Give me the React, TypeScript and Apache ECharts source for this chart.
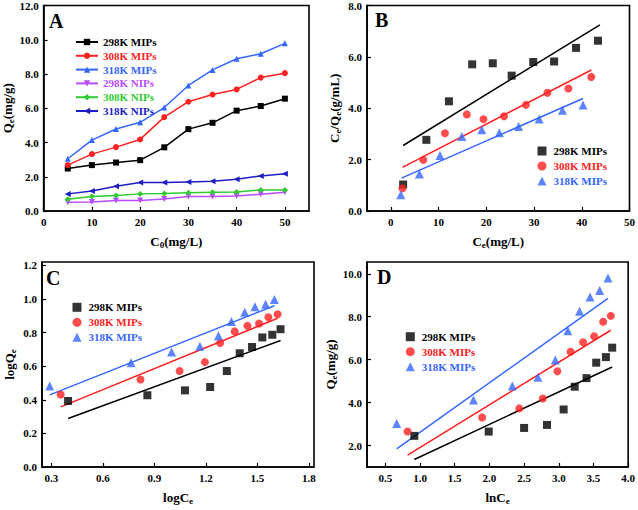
import React, { useEffect, useRef } from "react";
import * as echarts from "echarts";

const FONT = '"Liberation Serif", "Times New Roman", serif';
const BLACK = "#000000";
const RED = "#ff2020";
const BLUE = "#3366ff";
const VIOLET = "#b84dff";
const GREEN = "#2ecc2e";
const NAVY = "#1c1cc8";

// Panel A: Qe vs C0
const aC0 = [5, 10, 15, 20, 25, 30, 35, 40, 45, 50];
const aMip298 = [2.48, 2.68, 2.83, 2.97, 3.72, 4.78, 5.15, 5.86, 6.13, 6.56];
const aMip308 = [2.68, 3.32, 3.73, 4.18, 5.48, 6.38, 6.8, 7.1, 7.79, 8.05];
const aMip318 = [3.05, 4.14, 4.79, 5.18, 6.04, 7.33, 8.24, 8.89, 9.18, 9.79];
const aNip298 = [0.51, 0.53, 0.61, 0.62, 0.7, 0.84, 0.84, 0.88, 0.98, 1.09];
const aNip308 = [0.68, 0.84, 0.9, 1.0, 1.02, 1.07, 1.09, 1.11, 1.23, 1.23];
const aNip318 = [1.0, 1.17, 1.45, 1.66, 1.66, 1.7, 1.74, 1.86, 2.05, 2.17];

// Panel B: Ce/Qe vs Ce (Langmuir)
const bCe298 = [2.57, 7.44, 12.17, 17.04, 21.35, 25.31, 29.83, 34.2, 38.8, 43.4];
const bRat298 = [1.03, 2.77, 4.27, 5.71, 5.75, 5.27, 5.8, 5.82, 6.35, 6.63];
const bCe308 = [2.43, 6.8, 11.33, 15.92, 19.4, 23.71, 28.3, 32.8, 37.2, 41.99];
const bRat308 = [0.88, 1.99, 3.03, 3.76, 3.57, 3.69, 4.13, 4.6, 4.77, 5.22];
const bCe318 = [2.09, 5.98, 10.29, 14.88, 19.05, 22.74, 26.77, 31.08, 35.95, 40.26];
const bRat318 = [0.63, 1.44, 2.16, 2.9, 3.16, 3.05, 3.29, 3.58, 3.92, 4.13];
const bFit298X = [2.57, 43.8];
const bFit298Y = [2.55, 7.25];
const bFit308X = [2.43, 42.0];
const bFit308Y = [1.7, 5.49];
const bFit318X = [2.23, 40.26];
const bFit318Y = [1.28, 4.38];

// Panel C: logQe vs logCe (Freundlich)
const cX298 = [0.397, 0.859, 1.078, 1.225, 1.322, 1.397, 1.469, 1.529, 1.587, 1.635];
const cY298 = [0.393, 0.427, 0.456, 0.476, 0.571, 0.677, 0.714, 0.771, 0.787, 0.82];
const cX308 = [0.354, 0.819, 1.047, 1.194, 1.283, 1.368, 1.442, 1.51, 1.564, 1.618];
const cY308 = [0.431, 0.521, 0.571, 0.624, 0.738, 0.807, 0.84, 0.854, 0.891, 0.909];
const cX318 = [0.29, 0.764, 1.0, 1.165, 1.273, 1.349, 1.426, 1.486, 1.548, 1.599];
const cY318 = [0.482, 0.62, 0.685, 0.718, 0.781, 0.866, 0.921, 0.954, 0.968, 0.997];
const cFit298X = [0.397, 1.635];
const cFit298Y = [0.289, 0.753];
const cFit308X = [0.354, 1.618];
const cFit308Y = [0.358, 0.885];
const cFit318X = [0.29, 1.599];
const cFit318Y = [0.429, 0.96];

// Panel D: Qe vs lnCe (Temkin)
const dX298 = [0.917, 1.99, 2.5, 2.83, 3.07, 3.23, 3.4, 3.54, 3.68, 3.77];
const dY298 = [2.45, 2.65, 2.82, 2.96, 3.68, 4.74, 5.14, 5.86, 6.12, 6.56];
const dX308 = [0.82, 1.895, 2.43, 2.77, 2.98, 3.17, 3.35, 3.51, 3.64, 3.75];
const dY308 = [2.65, 3.31, 3.73, 4.19, 5.46, 6.37, 6.81, 7.09, 7.77, 8.04];
const dX318 = [0.663, 1.77, 2.33, 2.7, 2.95, 3.13, 3.3, 3.45, 3.59, 3.71];
const dY318 = [3.03, 4.12, 4.77, 5.18, 5.98, 7.35, 8.25, 8.92, 9.22, 9.81];
const dFit298X = [0.917, 3.77];
const dFit298Y = [1.35, 5.66];
const dFit308X = [0.82, 3.75];
const dFit308Y = [1.55, 7.37];
const dFit318X = [0.663, 3.71];
const dFit318Y = [1.84, 8.86];

// Tick labels
const aXTicks = [0, 10, 20, 30, 40, 50];
const aYTicks = [0, 2, 4, 6, 8, 10, 12];
const bXTicks = [0, 10, 20, 30, 40, 50];
const bYTicks = [0, 2, 4, 6, 8];
const cXTicks = [0.3, 0.6, 0.9, 1.2, 1.5, 1.8];
const cYTicks = [0, 0.2, 0.4, 0.6, 0.8, 1.0, 1.2];
const dXTicks = [0.5, 1.0, 1.5, 2.0, 2.5, 3.0, 3.5, 4.0];
const dYTicks = [2, 4, 6, 8, 10];

const legendA = ["298K MIPs", "308K MIPs", "318K MIPs", "298K NIPs", "308K NIPs", "318K NIPs"];
const legendFit = ["298K MIPs", "308K MIPs", "318K MIPs"];

const zip = (xs: number[], ys: number[]) => xs.map((x, i) => [x, ys[i]]);

const rich = {
  m: { fontFamily: FONT, fontWeight: "bold", fontSize: 13, color: BLACK, lineHeight: 16 },
  s: { fontFamily: FONT, fontWeight: "bold", fontSize: 9, color: BLACK, lineHeight: 9, verticalAlign: "bottom" },
};

function axis(
  gridIndex: number,
  min: number,
  max: number,
  ticks: number[],
  dec: number,
  name: string,
  nameGap: number
) {
  return {
    type: "value",
    gridIndex,
    min,
    max,
    name,
    nameLocation: "middle",
    nameGap,
    nameTextStyle: { rich },
    axisLine: { show: true, onZero: false, lineStyle: { color: BLACK, width: 1.6 } },
    axisTick: { show: true, inside: true, length: 4, customValues: ticks, lineStyle: { color: BLACK, width: 1.2 } },
    axisLabel: {
      customValues: ticks,
      margin: 5,
      color: BLACK,
      fontFamily: FONT,
      fontWeight: "bold",
      fontSize: 11,
      formatter: (v: number) => v.toFixed(dec),
    },
    splitLine: { show: false },
  };
}

function lineSeries(name: string, xs: number[], ys: number[], color: string, symbol: string, rotate: number) {
  return {
    type: "line",
    name,
    xAxisIndex: 0,
    yAxisIndex: 0,
    data: zip(xs, ys),
    symbol,
    symbolSize: 6,
    symbolRotate: rotate,
    lineStyle: { color, width: 1.5 },
    itemStyle: { color },
    z: 3,
  };
}

function scatter(name: string, idx: number, xs: number[], ys: number[], color: string, symbol: string, size: number) {
  return {
    type: "scatter",
    name,
    xAxisIndex: idx,
    yAxisIndex: idx,
    data: zip(xs, ys),
    symbol,
    symbolSize: size,
    itemStyle: { color },
    z: 4,
  };
}

function fit(idx: number, xs: number[], ys: number[], color: string) {
  return {
    type: "line",
    name: "fit" + idx + color,
    xAxisIndex: idx,
    yAxisIndex: idx,
    data: zip(xs, ys),
    symbol: "none",
    lineStyle: { color, width: 1.5 },
    z: 2,
  };
}

const SQ = "path://M0,0L10,0L10,10L0,10Z";
const TRI = "path://M5,0L10,10L0,10Z";
const fitColors = [BLACK, RED, BLUE];
const fitIcons = [SQ, "circle", TRI];

function fitLegend(prefix: string, left: number, top: number) {
  return {
    orient: "vertical",
    left,
    top,
    padding: 0,
    itemWidth: 13,
    itemHeight: 9,
    itemGap: 3,
    formatter: (n: string) => n.split("|")[1],
    data: legendFit.map((n, i) => ({
      name: prefix + "|" + n,
      icon: fitIcons[i],
      textStyle: { color: fitColors[i] },
    })),
    textStyle: { fontFamily: FONT, fontWeight: "bold", fontSize: 11, lineHeight: 12 },
  };
}

function panelLetter(text: string, x: number, y: number) {
  return {
    type: "text",
    left: x,
    top: y,
    style: { text, font: 'bold 20px "Liberation Serif"', fill: BLACK },
  };
}

export default function App() {
  const ref = useRef<HTMLDivElement>(null);
  useEffect(() => {
    const chart = echarts.init(ref.current!, null, { renderer: "svg" });
    const aColors = [BLACK, RED, BLUE, VIOLET, GREEN, NAVY];
    const option = {
      animation: false,
      backgroundColor: "#ffffff",
      grid: [
        { left: 42, top: 5, width: 267, height: 206, show: true, borderColor: BLACK, borderWidth: 1.6 },
        { left: 367, top: 5, width: 263, height: 206, show: true, borderColor: BLACK, borderWidth: 1.6 },
        { left: 42, top: 262, width: 272, height: 205, show: true, borderColor: BLACK, borderWidth: 1.6 },
        { left: 367, top: 262, width: 263, height: 205, show: true, borderColor: BLACK, borderWidth: 1.6 },
      ],
      xAxis: [
        axis(0, 0, 55, aXTicks, 0, "{m|C}{s|0}{m|(mg/L)}", 22),
        axis(1, -5, 50, bXTicks, 0, "{m|C}{s|e}{m|(mg/L)}", 22),
        axis(2, 0.245, 1.83, cXTicks, 1, "{m|logC}{s|e}", 22),
        axis(3, 0.235, 4.0, dXTicks, 1, "{m|lnC}{s|e}", 22),
      ],
      yAxis: [
        axis(0, 0, 12, aYTicks, 1, "{m|Q}{s|e}{m|(mg/g)}", 25),
        axis(1, 0, 8, bYTicks, 1, "{m|C}{s|e}{m|/Q}{s|e}{m|(g/mL)}", 25),
        axis(2, 0, 1.22, cYTicks, 1, "{m|logQ}{s|e}", 25),
        axis(3, 1.0, 10.55, dYTicks, 1, "{m|Q}{s|e}{m|(mg/g)}", 25),
      ],
      legend: [
        {
          orient: "vertical",
          left: 75,
          top: 36,
          padding: 0,
          itemWidth: 22,
          itemHeight: 8,
          itemGap: 1.8,
          formatter: (n: string) => n.split("|")[1],
          data: legendA.map((n, i) => ({ name: "A|" + n, textStyle: { color: aColors[i] } })),
          textStyle: { fontFamily: FONT, fontWeight: "bold", fontSize: 11, lineHeight: 12 },
        },
        fitLegend("B", 537.5, 145),
        fitLegend("C", 72.5, 301.3),
        fitLegend("D", 405.8, 330.7),
      ],
      graphic: [
        panelLetter("A", 49, 11),
        panelLetter("B", 375, 10),
        panelLetter("C", 46, 268),
        panelLetter("D", 377, 267),
      ],
      series: [
        lineSeries("A|298K MIPs", aC0, aMip298, BLACK, "rect", 0),
        lineSeries("A|308K MIPs", aC0, aMip308, RED, "circle", 0),
        lineSeries("A|318K MIPs", aC0, aMip318, BLUE, "triangle", 0),
        lineSeries("A|298K NIPs", aC0, aNip298, VIOLET, "triangle", 180),
        lineSeries("A|308K NIPs", aC0, aNip308, GREEN, "diamond", 0),
        lineSeries("A|318K NIPs", aC0, aNip318, NAVY, "triangle", 90),

        fit(1, bFit298X, bFit298Y, BLACK),
        fit(1, bFit308X, bFit308Y, RED),
        fit(1, bFit318X, bFit318Y, BLUE),
        scatter("B|298K MIPs", 1, bCe298, bRat298, BLACK, "rect", 8),
        scatter("B|308K MIPs", 1, bCe308, bRat308, RED, "circle", 8),
        scatter("B|318K MIPs", 1, bCe318, bRat318, BLUE, "triangle", 9),

        fit(2, cFit298X, cFit298Y, BLACK),
        fit(2, cFit308X, cFit308Y, RED),
        fit(2, cFit318X, cFit318Y, BLUE),
        scatter("C|298K MIPs", 2, cX298, cY298, BLACK, "rect", 8),
        scatter("C|308K MIPs", 2, cX308, cY308, RED, "circle", 8),
        scatter("C|318K MIPs", 2, cX318, cY318, BLUE, "triangle", 9),

        fit(3, dFit298X, dFit298Y, BLACK),
        fit(3, dFit308X, dFit308Y, RED),
        fit(3, dFit318X, dFit318Y, BLUE),
        scatter("D|298K MIPs", 3, dX298, dY298, BLACK, "rect", 8),
        scatter("D|308K MIPs", 3, dX308, dY308, RED, "circle", 8),
        scatter("D|318K MIPs", 3, dX318, dY318, BLUE, "triangle", 9),
      ],
    };
    chart.setOption(option as any);
    return () => chart.dispose();
  }, []);
  return (
    <div
      ref={ref}
      style={{ position: "absolute", left: 0, top: 0, width: 638, height: 510 }}
    />
  );
}
